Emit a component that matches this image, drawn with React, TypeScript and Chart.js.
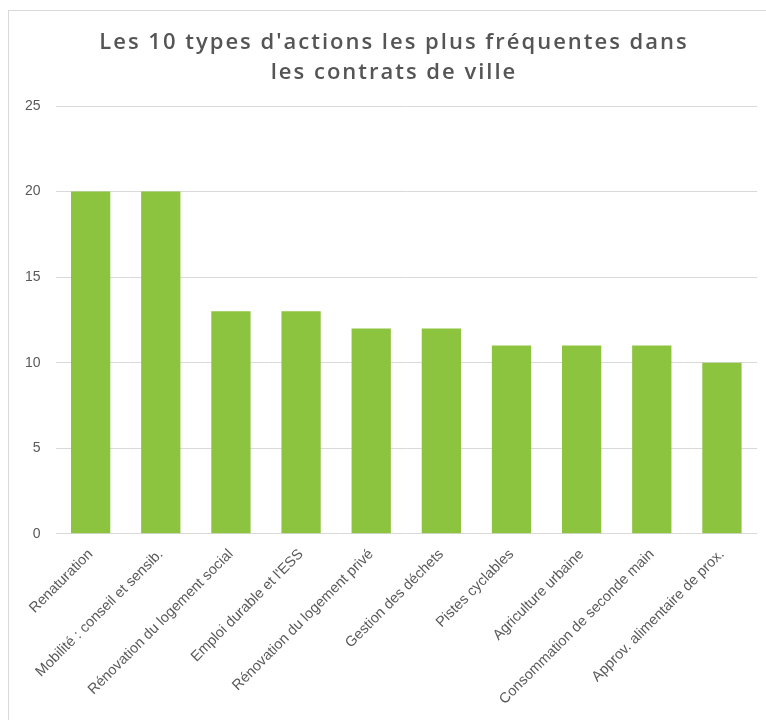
import React, { useEffect, useRef } from "react";
import { Chart, registerables } from "chart.js";

Chart.register(...registerables);

const titleLines = ["Les 10 types d'actions les plus fréquentes dans", "les contrats de ville"];
const categories = [
  "Renaturation",
  "Mobilité : conseil et sensib.",
  "Rénovation du logement social",
  "Emploi durable et l'ESS",
  "Rénovation du logement privé",
  "Gestion des déchets",
  "Pistes cyclables",
  "Agriculture urbaine",
  "Consommation de seconde main",
  "Approv. alimentaire de prox.",
];
const values = [20, 20, 13, 13, 12, 12, 11, 11, 11, 10];
const yMin = 0;
const yMax = 25;
const yStep = 5;

const titlePlugin = {
  id: "spacedTitle",
  afterDraw(chart: any) {
    const ctx = chart.ctx as CanvasRenderingContext2D;
    ctx.save();
    ctx.fillStyle = "#555555";
    ctx.font = "600 22px 'Open Sans'";
    (ctx as any).letterSpacing = "2px";
    ctx.textAlign = "center";
    ctx.textBaseline = "middle";
    const cx = 385;
    titleLines.forEach((line, i) => {
      ctx.fillText(line, cx, 32 + i * 30);
    });
    ctx.restore();
  },
};

export default function App() {
  const ref = useRef<HTMLCanvasElement | null>(null);
  useEffect(() => {
    if (!ref.current) return;
    const chart = new Chart(ref.current, {
      type: "bar",
      data: {
        labels: categories,
        datasets: [
          {
            data: values,
            backgroundColor: "#8cc33f",
            categoryPercentage: 1,
            barPercentage: 0.56,
          },
        ],
      },
      plugins: [titlePlugin],
      options: {
        animation: false,
        responsive: true,
        maintainAspectRatio: false,
        layout: { padding: { left: 1, right: 22, top: 95, bottom: 8 } },
        plugins: {
          legend: { display: false },
          tooltip: { enabled: false },
          title: { display: false },
        },
        scales: {
          x: {
            grid: { display: false },
            border: { display: false },
            ticks: {
              color: "#595959",
              font: { family: "'Liberation Sans'", size: 14.5 },
              minRotation: 45,
              maxRotation: 45,
              autoSkip: false,
              padding: 4,
            },
          },
          y: {
            min: yMin,
            max: yMax,
            grid: { color: "#d9d9d9", drawTicks: false },
            border: { display: false },
            ticks: {
              stepSize: yStep,
              color: "#595959",
              font: { family: "'Liberation Sans'", size: 14 },
              padding: 15,
            },
          },
        },
      },
    });
    return () => chart.destroy();
  }, []);
  return (
    <div
      style={{
        position: "absolute",
        left: 8,
        top: 10,
        width: 758,
        height: 710,
        borderLeft: "1px solid #d9d9d9",
        borderTop: "1px solid #d9d9d9",
        overflow: "hidden",
        boxSizing: "border-box",
        background: "#fff",
      }}
    >
      <div style={{ width: 770, height: 709, position: "relative" }}>
        <canvas ref={ref} />
      </div>
    </div>
  );
}
